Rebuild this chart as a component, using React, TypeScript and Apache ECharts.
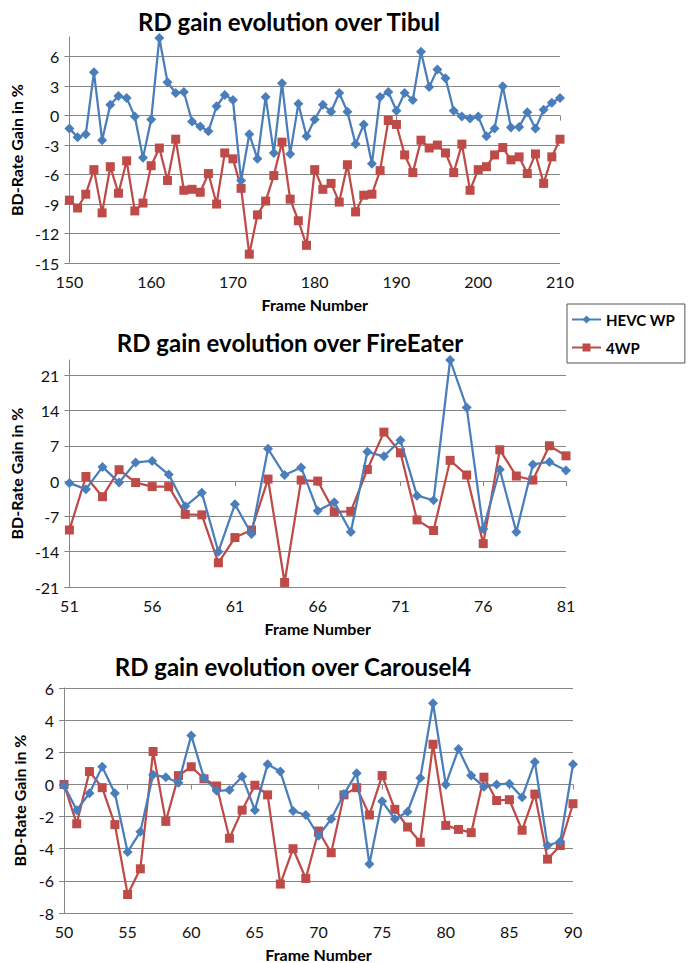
import React, { useEffect, useRef } from "react";
import * as echarts from "echarts";

const tibulFrames = Array.from({ length: 61 }, (_, i) => 150 + i);
const tibulHevc = [
  -1.3, -2.2, -1.9, 4.4, -2.5, 1.1, 2.0, 1.8, -0.1, -4.3,
  -0.4, 7.9, 3.4, 2.3, 2.4, -0.6, -1.1, -1.6, 0.95, 2.1,
  1.6, -6.6, -1.9, -4.4, 1.9, -3.8, 3.3, -3.9, 1.2, -2.1,
  -0.4, 1.1, 0.4, 2.3, 0.4, -2.9, -0.9, -4.9, 1.9, 2.4,
  0.5, 2.3, 1.6, 6.5, 2.9, 4.7, 3.8, 0.5, -0.1, -0.3,
  -0.1, -2.1, -1.3, 3.0, -1.2, -1.15, 0.35, -1.3, 0.6, 1.3,
  1.8,
];
const tibul4wp = [
  -8.6, -9.4, -8.0, -5.5, -9.9, -5.2, -7.9, -4.6, -9.7, -8.9,
  -5.1, -3.3, -6.6, -2.4, -7.6, -7.5, -7.8, -5.9, -9.0, -3.8,
  -4.4, -7.4, -14.1, -10.1, -8.7, -6.1, -2.7, -8.5, -10.7, -13.2,
  -5.5, -7.5, -6.9, -8.8, -5.0, -9.8, -8.1, -8.0, -5.6, -0.5,
  -0.9, -4.0, -5.8, -2.5, -3.3, -3.0, -3.8, -5.8, -2.9, -7.6,
  -5.5, -5.2, -4.0, -3.25, -4.5, -4.2, -5.9, -3.9, -6.9, -4.2,
  -2.4,
];

const fireFrames = Array.from({ length: 31 }, (_, i) => 51 + i);
const fireHevc = [
  -0.4, -1.6, 2.8, -0.3, 3.7, 4.0, 1.3, -5.0, -2.3, -14.0,
  -4.6, -10.5, 6.4, 1.2, 2.7, -5.9, -4.2, -10.1, 5.8, 4.9,
  8.1, -2.9, -3.8, 24.0, 14.6, -9.5, 2.3, -10.1, 3.3, 3.8,
  2.1,
];
const fire4wp = [
  -9.7, 0.9, -3.1, 2.25, -0.3, -1.1, -1.1, -6.6, -6.7, -16.2,
  -11.2, -9.7, 0.4, -20.1, 0.2, 0.0, -6.1, -6.0, 2.3, 9.7,
  5.6, -7.7, -9.8, 4.1, 1.2, -12.4, 6.2, 1.0, 0.2, 7.0,
  5.0,
];

const carFrames = Array.from({ length: 41 }, (_, i) => 50 + i);
const carHevc = [
  -0.05, -1.6, -0.55, 1.1, -0.55, -4.2, -2.95, 0.6, 0.45, 0.1,
  3.05, 0.4, -0.4, -0.35, 0.5, -1.6, 1.25, 0.8, -1.65, -1.9,
  -3.2, -2.15, -0.6, 0.7, -4.95, -1.05, -2.15, -1.7, 0.4, 5.05,
  0.0, 2.2, 0.55, -0.15, 0.0, 0.05, -0.8, 1.4, -3.8, -3.55,
  1.25,
];
const car4wp = [
  0.0, -2.45, 0.8, -0.2, -2.5, -6.85, -5.25, 2.05, -2.3, 0.55,
  1.1, 0.35, -0.1, -3.35, -1.6, -0.05, -0.65, -6.2, -4.0, -5.85,
  -2.9, -4.25, -0.65, -0.2, -1.9, 0.55, -1.55, -2.65, -3.6, 2.5,
  -2.55, -2.8, -3.0, 0.45, -1.0, -0.95, -2.85, -0.6, -4.65, -3.8,
  -1.2,
];

const seriesNames = ["HEVC WP", "4WP"];
const chartTitles = [
  "RD gain evolution over Tibul",
  "RD gain evolution over FireEater",
  "RD gain evolution over Carousel4",
];

const FONT = "Lato, 'Liberation Sans', sans-serif";
const BLUE = "#4A7EBB";
const RED = "#BE4B48";
const AXIS = "#868686";

const pair = (xs: number[], ys: number[]) => xs.map((x, i) => [x, ys[i]]);

export default function App() {
  const ref = useRef<HTMLDivElement>(null);
  useEffect(() => {
    document.body.style.margin = "0";
    const chart = echarts.init(ref.current!, undefined, { renderer: "svg" });

    const grids = [
      { left: 64, width: 496, top: 37, height: 226 },
      { left: 64, width: 502, top: 360, height: 227 },
      { left: 64, width: 509, top: 688, height: 227 },
    ];
    const xCfg = [
      { min: 150, max: 210, interval: 10 },
      { min: 51, max: 81, interval: 5 },
      { min: 50, max: 90, interval: 5 },
    ];
    const yCfg = [
      { min: -15, max: 8, interval: 3 },
      { min: -21, max: 24, interval: 7 },
      { min: -8, max: 6, interval: 2 },
    ];
    const titleTops = [4, 325, 649];
    const titleCenters = [284, 285, 288];

    const lineSeries = (name: string, xi: number, xs: number[], ys: number[]) => {
      const blue = name === seriesNames[0];
      return {
        type: "line",
        name,
        xAxisIndex: xi,
        yAxisIndex: xi,
        data: pair(xs, ys),
        symbol: blue ? "diamond" : "rect",
        symbolSize: blue ? 10 : 9,
        showAllSymbol: true,
        clip: true,
        lineStyle: { color: blue ? BLUE : RED, width: 2.25 },
        itemStyle: { color: blue ? BLUE : RED },
        z: blue ? 3 : 2,
      };
    };

    chart.setOption({
      animation: false,
      textStyle: { fontFamily: FONT },
      title: chartTitles.map((t, i) => ({
        text: t,
        left: titleCenters[i],
        top: titleTops[i],
        textAlign: "center",
        textStyle: { fontFamily: FONT, fontSize: 24, fontWeight: "bold", color: "#000" },
      })),
      legend: {
        data: seriesNames.map((n) => ({ name: n })),
        orient: "vertical",
        left: 567,
        top: 304,
        width: 108,
        itemWidth: 29,
        itemHeight: 10,
        itemGap: 13,
        padding: [8, 10, 8, 4],
        borderColor: "#555",
        borderWidth: 1,
        textStyle: { fontFamily: FONT, fontSize: 15, fontWeight: "bold", color: "#000" },
      },
      grid: grids.map((g) => ({ ...g, containLabel: false })),
      xAxis: xCfg.map((c, i) => ({
        type: "value",
        gridIndex: i,
        ...c,
        name: "Frame Number",
        nameLocation: "middle",
        nameGap: 33,
        nameTextStyle: { fontFamily: FONT, fontSize: 16, fontWeight: "bold", color: "#000" },
        axisLine: { show: true, lineStyle: { color: AXIS, width: 1 } },
        axisTick: { show: true, length: 5, lineStyle: { color: AXIS } },
        axisLabel: { fontFamily: FONT, fontSize: 16, color: "#111", margin: 10 },
        splitLine: { show: false },
      })),
      yAxis: yCfg.map((c, i) => ({
        type: "value",
        gridIndex: i,
        ...c,
        name: "BD-Rate Gain in %",
        nameLocation: "middle",
        nameGap: 32,
        nameTextStyle: { fontFamily: FONT, fontSize: 16, fontWeight: "bold", color: "#000" },
        axisLine: { show: true, lineStyle: { color: AXIS, width: 1 } },
        axisTick: { show: true, length: 5, lineStyle: { color: AXIS } },
        axisLabel: { fontFamily: FONT, fontSize: 16, color: "#111", margin: 10, showMaxLabel: i === 2 },
        splitLine: { show: true, showMaxLine: i === 2, lineStyle: { color: AXIS, width: 1 } },
      })),
      series: [
        lineSeries(seriesNames[0], 0, tibulFrames, tibulHevc),
        lineSeries(seriesNames[1], 0, tibulFrames, tibul4wp),
        lineSeries(seriesNames[0], 1, fireFrames, fireHevc),
        lineSeries(seriesNames[1], 1, fireFrames, fire4wp),
        lineSeries(seriesNames[0], 2, carFrames, carHevc),
        lineSeries(seriesNames[1], 2, carFrames, car4wp),
      ],
    });
    return () => chart.dispose();
  }, []);
  return <div ref={ref} style={{ width: 694, height: 963 }} />;
}
